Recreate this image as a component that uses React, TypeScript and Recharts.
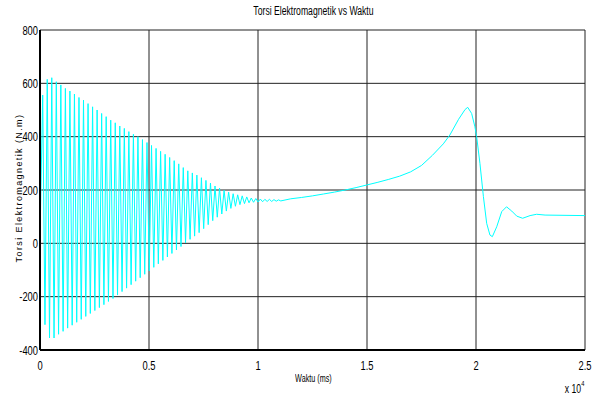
import React from "react";
import { LineChart, Line, XAxis, YAxis, CartesianGrid } from "recharts";

// oscillating start: alternating peak / trough
const oscStart = 124;
const halfPeriod = 104;
const oscPeaks = [
    556, 615, 621, 606, 594, 581, 571, 560, 547, 537,
    524, 512, 500, 487, 475, 462, 452, 440, 431, 419,
    409, 400, 389, 378, 367, 356, 345, 334, 322, 310,
    298, 284, 272, 264, 256, 246, 236, 226, 215, 207,
    199, 192, 186, 182, 178, 174, 170, 168, 166, 165,
    165, 164, 163,
];
const oscTroughs = [
    -305, -355, -355, -341, -330, -318, -307, -296, -285, -274,
    -263, -252, -241, -230, -218, -207, -194, -181, -168, -155,
    -142, -129, -116, -103, -90, -77, -64, -51, -38, -25,
    -12, 2, 15, 27, 40, 55, 70, 85, 98, 110,
    121, 131, 139, 145, 149, 152, 154, 155, 156, 157,
    157, 158, 159,
];

// smooth part after the oscillation dies out
const tailTimes = [
    11500, 12000, 12500, 13000, 13500, 14000, 14500, 15000, 15500, 16000,
    16500, 17000, 17500, 18000, 18500, 18800, 19200, 19500, 19620, 19800,
    19950, 20030, 20180, 20340, 20490, 20640, 20750, 20950, 21180, 21400,
    21640, 21870, 22140, 22480, 22780, 23170, 25000,
];
const tailValues = [
    167, 172, 178, 185, 192, 200, 209, 219, 229, 240,
    252, 268, 292, 330, 373, 406, 465, 502, 510, 487,
    437, 400, 300, 175, 75, 31, 25, 62, 119, 137,
    121, 102, 94, 104, 109, 106, 104,
];

const xTicks = [0, 5000, 10000, 15000, 20000, 25000];
const yTicks = [-400, -200, 0, 200, 400, 600, 800];

const data: { t: number; v: number }[] = [{ t: 0, v: 20 }];
oscPeaks.forEach((p, i) => {
    data.push({ t: oscStart + 2 * i * halfPeriod, v: p });
    data.push({ t: oscStart + (2 * i + 1) * halfPeriod, v: oscTroughs[i] });
});
tailTimes.forEach((t, i) => data.push({ t, v: tailValues[i] }));

const font = "'Liberation Sans', Arial, sans-serif";
const squeeze = 0.72;

// narrow (Arial Narrow look) tick labels
const XTick = (props: any) => {
    const { x, y, payload } = props;
    return (
        <text transform={`translate(${x},${y + 12}) scale(${squeeze},1)`} textAnchor="middle" fontSize={13} fontFamily={font} fill="#000">
            {String(payload.value / 10000)}
        </text>
    );
};

const YTick = (props: any) => {
    const { x, y, payload } = props;
    return (
        <text transform={`translate(${x + 6},${y + 4.5}) scale(${squeeze},1)`} textAnchor="end" fontSize={13} fontFamily={font} fill="#000">
            {String(payload.value)}
        </text>
    );
};

const Narrow = ({ children, scale = squeeze }: { children: React.ReactNode; scale?: number }) => (
    <span style={{ display: "inline-block", transform: `scaleX(${scale})`, transformOrigin: "center" }}>{children}</span>
);

export default function App() {
    return (
        <div style={{ position: "absolute", left: 0, top: 0, width: 605, height: 398, background: "#fff", fontFamily: font }}>
            <div
                style={{
                    position: "absolute",
                    left: 19,
                    top: 188,
                    transform: "translate(-50%, -50%) rotate(-90deg)",
                    whiteSpace: "nowrap",
                    fontSize: 9,
                    lineHeight: "10px",
                    letterSpacing: 1.4,
                    color: "#000",
                }}
            >
                Torsi Elektromagnetik (N.m)
            </div>
            <LineChart width={605} height={398} data={data} margin={{ top: 30, right: 20, left: 0, bottom: 28 }} style={{ position: "absolute", left: 0, top: 0 }}>
                <CartesianGrid stroke="#222" strokeWidth={1} />
                <XAxis
                    dataKey="t"
                    type="number"
                    domain={[0, 25000]}
                    ticks={xTicks}
                    height={20}
                    stroke="#000"
                    strokeWidth={2}
                    tickLine={false}
                    tick={<XTick />}
                />
                <YAxis
                    type="number"
                    domain={[-400, 800]}
                    ticks={yTicks}
                    width={40}
                    stroke="#000"
                    strokeWidth={2}
                    tickLine={false}
                    tick={<YTick />}
                />
                <Line
                    dataKey="v"
                    type="linear"
                    stroke="#00ffff"
                    strokeWidth={1}
                    dot={false}
                    isAnimationActive={false}
                />
            </LineChart>
            <div style={{ position: "absolute", left: 213, width: 200, top: 4, textAlign: "center", fontSize: 12, color: "#000" }}>
                <Narrow>Torsi Elektromagnetik vs Waktu</Narrow>
            </div>
            <div style={{ position: "absolute", left: 263, width: 100, top: 373, textAlign: "center", fontSize: 10, color: "#000" }}>
                <Narrow>Waktu (ms)</Narrow>
            </div>
            <div style={{ position: "absolute", left: 560, width: 30, top: 381, textAlign: "center", fontSize: 12, color: "#000" }}>
                <Narrow>
                    x 10<sup style={{ fontSize: 8, position: "relative", top: -2 }}>4</sup>
                </Narrow>
            </div>
        </div>
    );
}
